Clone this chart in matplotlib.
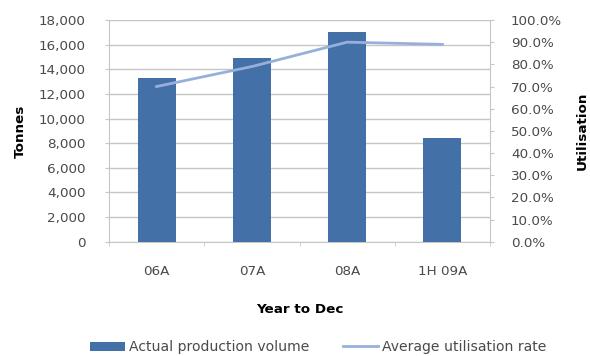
import matplotlib
matplotlib.use("Agg")
import matplotlib.pyplot as plt
from matplotlib.ticker import FuncFormatter, FixedLocator
from matplotlib.patches import Patch
from matplotlib.lines import Line2D

categories = ["06A", "07A", "08A", "1H 09A"]
production = [13300, 14900, 17000, 8450]          # tonnes
utilisation = [0.70, 0.79, 0.90, 0.89]            # average utilisation rate

bar_color = "#4470A8"
line_color = "#97B0DB"
grid_color = "#C6C6C6"
text_color = "#4A4A4A"
fs = 9.7

plt.rcParams["font.family"] = ["DejaVu Sans"]

fig = plt.figure(figsize=(5.9, 3.56), dpi=100)
ax = fig.add_axes([109 / 590, 1 - 241.7 / 356, (490 - 109) / 590, (241.7 - 20) / 356])

x = list(range(len(categories)))
ax.bar(x, production, width=0.4, color=bar_color, zorder=3)
ax.set_xlim(-0.5, len(categories) - 0.5)
ax.set_ylim(0, 18000)
ax.set_yticks(range(0, 18001, 2000))
ax.yaxis.set_major_formatter(FuncFormatter(lambda v, p: f"{int(v):,}"))
ax.set_xticks(x)
ax.set_xticklabels(categories)
ax.xaxis.set_minor_locator(FixedLocator([-0.5, 0.5, 1.5, 2.5, 3.5]))
ax.tick_params(axis="x", which="major", length=0, pad=17, labelsize=fs, labelcolor=text_color)
ax.tick_params(axis="x", which="minor", length=3, color=grid_color)
ax.tick_params(axis="y", length=3, color=grid_color, labelsize=fs, labelcolor=text_color, pad=14)
ax.grid(axis="y", color=grid_color, linewidth=1, zorder=0)
ax.set_axisbelow(True)
for s in ["top", "right"]:
    ax.spines[s].set_visible(False)
for s in ["left", "bottom"]:
    ax.spines[s].set_color(grid_color)

ax.set_ylabel("Tonnes", fontsize=fs, fontweight="bold", labelpad=8)
ax.set_xlabel("Year to Dec", fontsize=fs, fontweight="bold", labelpad=18)

ax2 = ax.twinx()
ax2.plot(x, utilisation, color=line_color, linewidth=2, zorder=4)
ax2.set_ylim(0, 1.0)
ax2.set_yticks([i / 10 for i in range(11)])
ax2.yaxis.set_major_formatter(FuncFormatter(lambda v, p: f"{v * 100:.1f}%"))
ax2.tick_params(axis="y", length=3, color=grid_color, labelsize=fs, labelcolor=text_color, pad=12)
for s in ["top", "left", "bottom"]:
    ax2.spines[s].set_visible(False)
ax2.spines["right"].set_color(grid_color)
ax2.set_ylabel("Utilisation", fontsize=fs, fontweight="bold", labelpad=10)

handles = [
    Patch(facecolor=bar_color, label="Actual production volume"),
    Line2D([0], [0], color=line_color, linewidth=2, label="Average utilisation rate"),
]
fig.legend(handles=handles, loc="center", bbox_to_anchor=(318 / 590, 1 - 347 / 356), ncol=2,
           frameon=False, fontsize=10.1, handlelength=2.5, handletextpad=0.3, columnspacing=2.4,
           handleheight=0.6, borderpad=0, labelcolor=text_color)

fig.savefig("out.png", dpi=100)
